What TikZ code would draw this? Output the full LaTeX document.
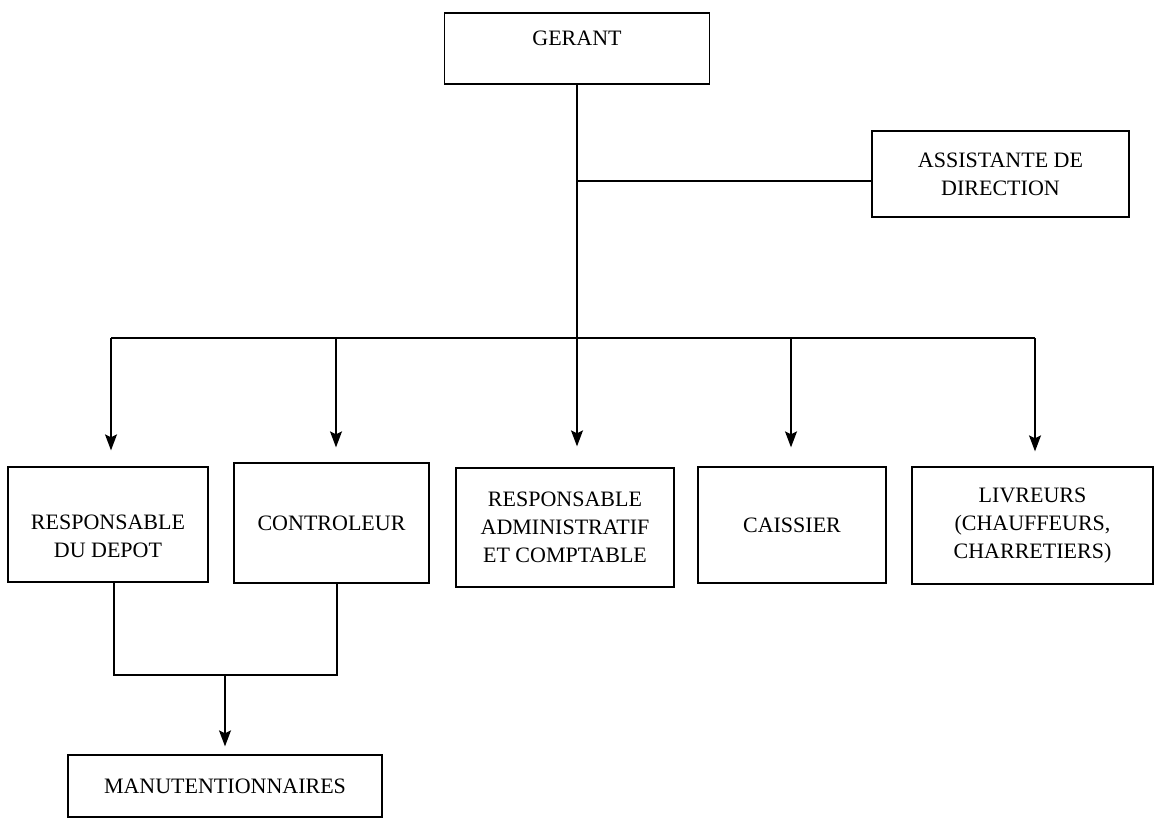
\documentclass[tikz,border=0pt]{standalone}
\usepackage{fontspec}
\setmainfont{Liberation Serif}
\usetikzlibrary{arrows.meta}
\begin{document}
\begin{tikzpicture}[x=1pt,y=-1pt,
  txt/.style={font=\fontsize{22}{28}\selectfont, align=center, inner sep=0pt},
  box/.style={draw, line width=1.3pt, txt},
  conn/.style={line width=1.3pt},
  arr/.style={conn, -{Stealth[length=16pt,width=12pt,inset=3pt]}}]
\useasboundingbox (0,0) rectangle (1156,819);
% boxes
\node[box, minimum width=265pt, minimum height=71pt,
      label={[name=gerantT, txt, yshift=10.5pt]center:GERANT}] (gerant) at (577,48.5) {};
\node[box, minimum width=257pt, minimum height=86pt] (assist) at (1000.5,174) {ASSISTANTE DE\\DIRECTION};
\node[box, minimum width=200pt, minimum height=115pt,
      label={[name=depotT, txt, yshift=-11.5pt]center:{RESPONSABLE\\DU DEPOT}}] (depot) at (108,524.5) {};
\node[box, minimum width=195pt, minimum height=120pt] (ctrl) at (331.5,523) {CONTROLEUR};
\node[box, minimum width=218pt, minimum height=119pt] (admin) at (565,527.5) {RESPONSABLE\\ADMINISTRATIF\\ET COMPTABLE};
\node[box, minimum width=188pt, minimum height=116pt] (caissier) at (792,525) {CAISSIER};
\node[box, minimum width=241pt, minimum height=117pt] (livreurs) at (1032.5,525.5) {LIVREURS\\(CHAUFFEURS,\\CHARRETIERS)};
\node[box, minimum width=314pt, minimum height=62pt] (manut) at (225,786) {MANUTENTIONNAIRES};
% coordinates
\coordinate (aj) at (577,181);
\coordinate (busL) at (111,338);
\coordinate (busR) at (1035,338);
\coordinate (b2) at (336,338);
\coordinate (b4) at (791,338);
\coordinate (jL) at (114,675);
\coordinate (jR) at (337,675);
\coordinate (jM) at (225,675);
% connectors
\draw[arr, shorten >=21pt] (gerant.south) -- (gerant.south |- admin.north);
\draw[conn] (aj) -- (aj -| assist.west);
\draw[conn] (busL) -- (busR);
\draw[arr, shorten >=16pt] (busL) -- (busL |- depot.north);
\draw[arr, shorten >=15pt] (b2) -- (b2 |- ctrl.north);
\draw[arr, shorten >=19pt] (b4) -- (b4 |- caissier.north);
\draw[arr, shorten >=15pt] (busR) -- (busR |- livreurs.north);
\draw[conn] (jL |- depot.south) -- (jL) -- (jR) -- (jR |- ctrl.south);
\draw[arr, shorten >=8pt] (jM) -- (manut.north);
\end{tikzpicture}
\end{document}
